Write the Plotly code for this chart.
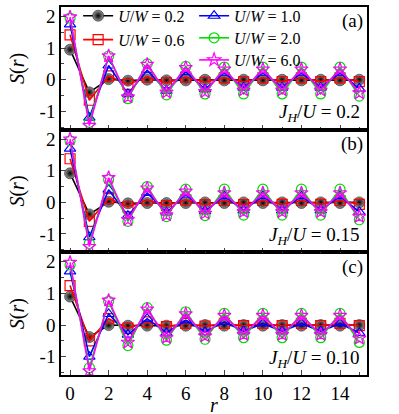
import plotly.graph_objects as go
from plotly.subplots import make_subplots

r = list(range(16))
series_labels = ["0.2", "0.6", "1.0", "2.0", "6.0"]

# panel (a) J_H/U = 0.2
a_02 = [0.95, -0.40, 0.02, -0.03, 0.00, -0.02, -0.02, 0.00, -0.02, 0.00, -0.02, 0.00, -0.02, 0.00, -0.02, 0.00]
a_06 = [1.42, -0.65, 0.12, -0.15, 0.08, -0.10, 0.08, -0.08, 0.06, -0.07, 0.06, -0.06, 0.06, -0.06, 0.06, -0.06]
a_10 = [1.75, -1.20, 0.45, -0.45, 0.30, -0.35, 0.25, -0.30, 0.22, -0.25, 0.22, -0.25, 0.22, -0.25, 0.22, -0.28]
a_20 = [1.95, -1.35, 0.75, -0.60, 0.50, -0.48, 0.42, -0.45, 0.40, -0.45, 0.40, -0.45, 0.40, -0.45, 0.40, -0.52]
a_60 = [1.98, -1.45, 0.75, -0.55, 0.48, -0.40, 0.38, -0.38, 0.33, -0.33, 0.33, -0.33, 0.33, -0.33, 0.33, -0.42]

# panel (b) J_H/U = 0.15
b_02 = [0.92, -0.38, 0.02, -0.03, -0.02, -0.02, -0.02, 0.00, -0.02, 0.00, -0.02, 0.00, -0.02, 0.00, -0.02, 0.00]
b_06 = [1.38, -0.60, 0.12, -0.14, 0.08, -0.10, 0.08, -0.08, 0.06, -0.07, 0.06, -0.06, 0.06, -0.06, 0.06, -0.06]
b_10 = [1.70, -1.10, 0.40, -0.42, 0.30, -0.32, 0.25, -0.28, 0.20, -0.25, 0.20, -0.25, 0.20, -0.25, 0.20, -0.30]
b_20 = [1.95, -1.30, 0.72, -0.60, 0.50, -0.45, 0.42, -0.42, 0.42, -0.40, 0.42, -0.40, 0.42, -0.40, 0.42, -0.55]
b_60 = [2.00, -1.40, 0.78, -0.55, 0.45, -0.40, 0.35, -0.35, 0.30, -0.30, 0.30, -0.30, 0.30, -0.30, 0.30, -0.45]

# panel (c) J_H/U = 0.10
c_02 = [0.90, -0.38, 0.00, -0.02, -0.02, -0.02, -0.02, 0.00, -0.02, 0.00, -0.02, 0.00, -0.02, 0.00, -0.02, 0.00]
c_06 = [1.25, -0.50, 0.20, -0.10, 0.10, -0.05, 0.05, -0.03, 0.05, -0.02, 0.05, -0.02, 0.05, -0.02, 0.05, -0.02]
c_10 = [1.70, -1.00, 0.35, -0.30, 0.20, -0.25, 0.15, -0.22, 0.10, -0.20, 0.05, -0.20, 0.05, -0.20, 0.05, -0.25]
c_20 = [1.90, -1.35, 0.75, -0.65, 0.55, -0.48, 0.42, -0.45, 0.37, -0.40, 0.37, -0.40, 0.37, -0.40, 0.37, -0.55]
c_60 = [1.98, -1.45, 0.78, -0.55, 0.50, -0.40, 0.35, -0.35, 0.30, -0.30, 0.30, -0.30, 0.30, -0.30, 0.30, -0.42]

panels = [[a_02, a_06, a_10, a_20, a_60],
          [b_02, b_06, b_10, b_20, b_60],
          [c_02, c_06, c_10, c_20, c_60]]
panel_tags = ["(a)", "(b)", "(c)"]
jh_vals = ["0.2", "0.15", "0.10"]

styles = [
    dict(color="black", symbol="circle", fill="#9a9a9a"),
    dict(color="#ff0000", symbol="square-open", fill=None),
    dict(color="#0000ff", symbol="triangle-up-open", fill=None),
    dict(color="#00dd00", symbol="circle-open", fill=None),
    dict(color="#ff00ff", symbol="star-open", fill=None),
]
legend_names = ["legend", "legend2", "legend3", "legend4", "legend5"]
# legend item positions (paper x of legend box, paper y of row centre)
legend_x = [0.056, 0.056, 0.435, 0.435, 0.435]
legend_y = [0.976, 0.911, 0.976, 0.916, 0.856]

FONT = "Times New Roman, Liberation Serif, serif"

fig = make_subplots(rows=3, cols=1, shared_xaxes=True, vertical_spacing=0)

for p, data in enumerate(panels):
    for s, (vals, st) in enumerate(zip(data, styles)):
        if st["fill"]:
            marker = dict(symbol="circle", size=11, color=st["fill"],
                          gradient=dict(type="radial", color="black"),
                          line=dict(color="black", width=0.5))
        else:
            marker = dict(symbol=st["symbol"], size=10, color=st["color"],
                          line=dict(color=st["color"], width=1.2))
        fig.add_trace(go.Scatter(
            x=r, y=vals, mode="lines+markers",
            line=dict(color=st["color"], width=1.6),
            marker=marker,
            name="<i>U</i>/<i>W</i> = " + series_labels[s],
            showlegend=(p == 0),
            legend=legend_names[s],
        ), row=p + 1, col=1)

for i in range(1, 4):
    fig.update_yaxes(range=[-1.58, 2.3], tickvals=[-1, 0, 1, 2],
                     ticktext=["-1", "0", "1", "2"],
                     ticks="inside", ticklen=5, tickwidth=1.2,
                     minor=dict(ticks="inside", ticklen=3, dtick=0.5, tickwidth=1),
                     showline=True, linewidth=1.5, linecolor="black", mirror=True,
                     showgrid=False, zeroline=False,
                     tickfont=dict(family=FONT, size=19, color="black"),
                     title=dict(text="<i>S</i>(<i>r</i>)", font=dict(family=FONT, size=20, color="black"),
                                standoff=10),
                     row=i, col=1)
    fig.update_xaxes(range=[-0.47, 15.4], tickvals=list(range(0, 16, 2)),
                     ticks="inside", ticklen=5, tickwidth=1.2,
                     minor=dict(ticks="inside", ticklen=3, dtick=1, tickwidth=1),
                     showline=True, linewidth=1.5, linecolor="black", mirror=True,
                     showgrid=False, zeroline=False,
                     tickfont=dict(family=FONT, size=19, color="black"),
                     row=i, col=1)

fig.add_annotation(text="<i>r</i>", x=0.5, y=-0.045, xref="paper", yref="paper",
                   xanchor="center", yanchor="top", showarrow=False,
                   font=dict(family=FONT, size=20, color="black"))

for p in range(3):
    yref = "y domain" if p == 0 else f"y{p+1} domain"
    xref = "x domain" if p == 0 else f"x{p+1} domain"
    fig.add_annotation(text=panel_tags[p], x=0.995, y=0.99, xref=xref, yref=yref,
                       xanchor="right", yanchor="top", showarrow=False,
                       font=dict(family=FONT, size=19, color="black"))
    fig.add_annotation(text="<i>J</i><sub><i>H</i></sub>/<i>U</i> = " + jh_vals[p],
                       x=0.985, y=0.02, xref=xref, yref=yref,
                       xanchor="right", yanchor="bottom", showarrow=False,
                       font=dict(family=FONT, size=19, color="black"))

legend_layout = {}
for name, lx, ly in zip(legend_names, legend_x, legend_y):
    legend_layout[name] = dict(x=lx, y=ly, xanchor="left", yanchor="middle",
                               bgcolor="rgba(0,0,0,0)",
                               font=dict(family=FONT, size=16, color="black"),
                               itemwidth=30)

fig.update_layout(
    width=399, height=414,
    margin=dict(l=61, r=32, t=7, b=39, autoexpand=False),
    paper_bgcolor="white", plot_bgcolor="white",
    font=dict(family=FONT, color="black"),
    **legend_layout,
)

fig.write_html("out.html", config={"displayModeBar": False},
               post_script="document.body.style.margin='0';document.body.style.padding='0';")
